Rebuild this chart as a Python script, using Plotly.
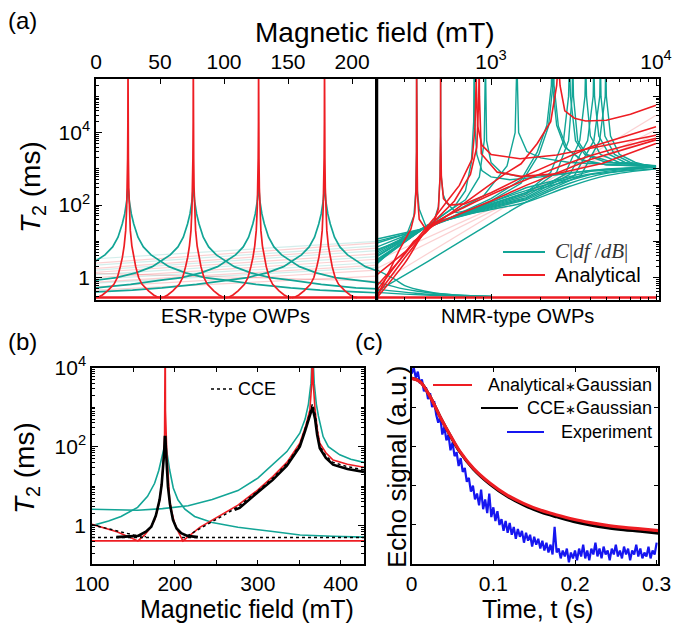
import plotly.graph_objects as go

W, H = 673, 625
FONT = "Liberation Sans"
TEAL = "#12A596"
RED = "#EE1D23"
BLUE = "#1616F0"

# ---------------- Panel (a) left : ESR-type OWPs (linear field, mT) ----------------
ESR_CENTERS = [25, 76, 127, 178.5]
RED_PROFILE_D = [0, 0.1, 0.3, 0.6, 1.0, 1.8, 3.0, 4.4, 6.0, 8.3, 11, 16, 20, 23, 25.5]
RED_PROFILE_T = [1e6, 20000, 2000, 300, 90, 20, 7.5, 3.6, 2.0, 1.0, 0.65, 0.43, 0.33, 0.29, 0.28]
TEAL_PROFILE_D = [0, 0.4, 1, 2.6, 4.5, 7.8, 12, 18, 25, 32, 45, 60, 76, 100, 127, 150, 178, 200, 230]
TEAL_PROFILE_T = [330, 240, 130, 57, 30, 13, 7, 4.2, 2.9, 2.0, 1.35, 1.0, 0.85, 0.65, 0.52, 0.45, 0.40, 0.37, 0.34]
ESR_FLOOR = 0.28
FADED_PINK_ESR = [(2.5, 9), (1.8, 6.5), (1.4, 4.5), (1.0, 3.2), (0.75, 2.2), (0.55, 1.6), (1.3, 0.8), (0.45, 1.1)]
FADED_TEAL_ESR = [(3.3, 10), (2.2, 7.5), (1.6, 5.5), (1.2, 3.8), (0.9, 2.6), (0.7, 1.9)]

# ---------------- Panel (a) right : NMR-type OWPs (log field, mT) ----------------
teal_nmr_354 = [(204, 6), (272, 9.4), (312, 17.6), (341, 51), (350, 250), (353.5, 3000), (354, 1e6), (354.5, 3000),
                (358, 250), (367, 78), (402, 27), (450, 30), (700, 60), (1630, 300), (4000, 850), (10000, 1200)]
teal_nmr_495 = [(204, 4), (391, 22), (448, 33), (480, 90), (491, 600), (494.5, 8000), (495, 1e6), (495.5, 8000),
                (500, 600), (512, 200), (536, 117), (614, 62), (841, 80), (1630, 220), (4000, 700), (10000, 1150)]
teal_nmr_790 = [(204, 3), (420, 28), (600, 90), (700, 250), (760, 1500), (785, 20000), (790, 1e6), (795, 20000),
                (820, 2500), (880, 900), (1000, 600), (1300, 500), (2000, 600), (4000, 900), (10000, 1150)]
teal_nmr_925 = [(204, 2.6), (420, 29), (700, 140), (850, 600), (910, 6000), (925, 1e6), (940, 6000), (1000, 1500),
                (1150, 800), (1500, 600), (2500, 700), (5000, 1000), (10000, 1150)]
teal_nmr_1435 = [(204, 5), (420, 27), (900, 180), (1250, 1200), (1400, 10000), (1435, 1e6), (1470, 10000),
                 (1650, 3000), (2000, 2000), (3000, 1500), (10000, 1150)]
teal_nmr_2340 = [(204, 11.6), (420, 24), (1000, 150), (1520, 500), (1905, 2900), (2180, 16000), (2320, 2e5),
                 (2340, 1e6), (2360, 2e5), (2500, 16000), (2800, 4000), (3500, 1800), (5000, 1300), (10000, 1150)]
teal_nmr_2390 = [(204, 9), (420, 25), (1000, 130), (1520, 400), (1950, 2500), (2230, 15000), (2370, 2e5),
                 (2390, 1e6), (2410, 2e5), (2560, 15000), (2900, 3500), (3600, 1700), (5000, 1300), (10000, 1170)]
teal_nmr_2990 = [(204, 7), (420, 26), (1000, 110), (1630, 220), (2300, 800), (2750, 6000), (2950, 1e5),
                 (2990, 1e6), (3030, 1e5), (3250, 6000), (3700, 2500), (5000, 1500), (10000, 1200)]
teal_nmr_3130 = [(204, 5.5), (420, 27), (1000, 100), (1630, 200), (2500, 800), (2950, 6000), (3100, 1e5),
                 (3130, 1e6), (3160, 1e5), (3350, 6000), (3800, 2500), (5500, 1500), (10000, 1220)]
teal_nmr_3750 = [(204, 4.5), (420, 27), (1000, 95), (1630, 180), (2800, 700), (3450, 6000), (3710, 1e5),
                 (3750, 1e6), (3790, 1e5), (4000, 8000), (4600, 2500), (6000, 1500), (10000, 1180)]
teal_nmr_4200 = [(204, 3.8), (420, 28), (1000, 90), (1630, 160), (3000, 700), (3850, 6000), (4160, 1e5),
                 (4200, 1e6), (4240, 1e5), (4500, 8000), (5200, 2500), (6500, 1500), (10000, 1140)]
teal_nmr_4600 = [(204, 3.2), (420, 28), (1000, 85), (1630, 150), (3200, 650), (4200, 6000), (4560, 1e5),
                 (4600, 1e6), (4640, 1e5), (4900, 8000), (5600, 2500), (7000, 1500), (10000, 1100)]
teal_nmr_4960 = [(204, 2.8), (420, 29), (1000, 80), (1630, 140), (3500, 650), (4550, 6000), (4920, 1e5),
                 (4960, 1e6), (5000, 1e5), (5300, 8000), (6000, 2500), (7500, 1500), (10000, 1080)]
teal_nmr_b1 = [(204, 2.4), (420, 29), (1000, 75), (1630, 120), (3000, 330), (5000, 650), (10000, 1000)]
teal_nmr_b2 = [(204, 10), (420, 25), (1000, 120), (1630, 250), (3000, 550), (5000, 850), (10000, 1100)]
teal_nmr_low = [(204, 0.42), (420, 2.9), (828, 19), (1630, 120), (3000, 400), (5000, 750), (10000, 1000)]
teal_tail_1 = [(204, 1.6), (260, 0.9), (300, 0.6), (400, 0.42), (550, 0.34), (1000, 0.3)]
teal_tail_2 = [(204, 0.75), (300, 0.48), (450, 0.37), (700, 0.32), (1000, 0.3)]
teal_tail_3 = [(204, 0.48), (350, 0.37), (600, 0.32), (1000, 0.3)]
teal_tail_4 = [(204, 0.39), (400, 0.33), (1000, 0.3)]

red_nmr_354 = [(204, 0.3), (234, 1.1), (280, 6.1), (327, 22), (345, 60), (351, 250), (353.5, 3000), (354, 1e6),
               (354.5, 3000), (358, 200), (367, 41), (402, 22), (500, 35), (1000, 130), (1630, 350), (4000, 1800),
               (10000, 6300)]
red_nmr_495 = [(204, 0.45), (280, 3), (340, 10), (400, 17), (448, 30), (480, 80), (491, 600), (494.5, 8000),
               (495, 1e6), (495.5, 8000), (500, 600), (515, 150), (560, 100), (690, 108), (1000, 220),
               (1630, 660), (4000, 4000), (10000, 14500)]
red_nmr_813 = [(204, 0.6), (280, 3), (341, 9.3), (448, 41), (536, 120), (643, 350), (769, 1900), (800, 15000),
               (811, 2e5), (813, 1e6), (815, 2e5), (830, 15000), (880, 4500), (1000, 2500), (1500, 1900),
               (2500, 2400), (5000, 4500), (10000, 8500)]
red_nmr_847 = [(204, 0.33), (300, 3.5), (420, 25), (600, 130), (750, 700), (820, 4000), (843, 1e5), (847, 1e6),
               (851, 1e5), (873, 2600), (1090, 810), (1520, 620), (2500, 730), (4700, 1400), (10000, 5000)]
red_nmr_2560 = [(204, 1.2), (300, 5), (420, 22), (563, 57), (1213, 730), (1520, 1380), (1906, 5000),
                (2300, 20000), (2500, 2e5), (2560, 1e6), (2620, 2e5), (2800, 40000), (3200, 25000),
                (3750, 21000), (5000, 22000), (7000, 32000), (10000, 57000)]
red_nmr_diag = [(204, 0.28), (300, 2.5), (420, 24), (700, 90), (1630, 500), (4000, 2300), (10000, 7000)]
NMR_FLOOR = [(204, 0.28), (10000, 0.28)]
faded_pink_nmr = [[(204, 0.65), (10000, 30000)], [(204, 1.8), (10000, 12000)], [(204, 3.0), (10000, 9000)]]

# ---------------- Panel (b) ----------------
teal_b_366 = [(100, 2.6), (130, 2.5), (155, 2.45), (185, 2.7), (216, 3.2), (245, 4.6), (276, 7.7), (300, 16),
              (318, 35), (335, 75), (350.6, 219), (357, 500), (361, 1200), (364, 4000), (365.5, 20000), (366, 1e5),
              (366.5, 20000), (368, 4000), (370.5, 1200), (373, 600), (378.7, 180), (385, 100), (398.8, 62),
              (412, 48), (428, 40)]
teal_b_188 = [(100, 1.0), (120, 1.3), (135, 1.7), (155, 2.9), (167, 5.5), (175.5, 11.8), (180.5, 25), (183.5, 46),
              (186, 80), (187.5, 110), (188.3, 125), (189.5, 95), (191.5, 45), (193.6, 26), (198, 9), (203.6, 4.5),
              (212, 2.6), (223.7, 1.7), (245, 1.2), (276, 0.91), (318, 0.71), (351, 0.58), (390, 0.54), (428, 0.51)]
red_b = [(100, 1.08), (130, 0.7), (155.4, 0.41), (160, 0.5), (163.5, 0.58), (170, 0.85), (175.5, 1.4), (179, 2.5),
         (181.5, 4.5), (184, 11), (185.5, 26), (186.8, 70), (187.5, 178), (188.0, 800), (188.3, 1e5), (188.6, 800),
         (189.2, 178), (190.2, 70), (191.5, 26), (192.6, 11), (193.6, 4.5), (196, 2.3), (199.6, 1.15), (204, 0.7),
         (209.6, 0.41), (230, 0.9), (250, 1.6), (276, 3.3), (300, 8), (318, 17.4), (335, 40), (350.6, 122),
         (358, 350), (362.7, 850), (365, 4000), (365.9, 1e5), (366.8, 4000), (369, 850), (372, 250), (374.7, 123),
         (382, 70), (390.7, 46), (408, 36), (428, 30)]
red_b_floor = [(100, 0.41), (428, 0.41)]
black_b_1 = [(129.3, 0.51), (145, 0.52), (155.4, 0.55), (165, 0.7), (171.5, 0.94), (177, 1.8), (181.5, 4.5),
             (184, 11), (185.5, 26), (187, 70), (187.8, 175), (188.5, 175), (189.5, 60), (190.5, 25), (191.6, 9.7),
             (194, 3.5), (197.6, 1.4), (202, 0.85), (207.6, 0.64), (215, 0.55), (227.7, 0.51)]
black_b_2 = [(272, 2.5), (278, 2.8), (300, 7), (318, 14.4), (335, 33), (350.6, 100), (357, 250), (362, 500),
             (364.5, 800), (365.8, 1000), (367, 800), (369, 500), (371.5, 200), (374.7, 91), (382, 52),
             (390.7, 35), (408, 27), (428, 23)]
cce_b_flat = [(100, 0.5), (428, 0.5)]
cce_b_left = [(100, 1.05), (130, 0.72), (150, 0.58), (165, 0.52)]
cce_b_right = [(215, 0.55), (228, 0.8), (240, 1.1), (258, 1.8), (276, 3.0), (300, 7.5), (318, 16), (335, 37),
               (350.6, 110), (357, 280), (362, 600), (364.8, 1000), (365.8, 1200), (367, 1000), (369.5, 600),
               (372, 220), (374.7, 105), (382, 58), (390.7, 40), (408, 31), (428, 26)]

# ---------------- Panel (c) ----------------
t_model = [0, 0.0102, 0.0225, 0.0347, 0.0470, 0.0592, 0.0756, 0.096, 0.1164, 0.1368, 0.1573, 0.1777,
           0.1981, 0.2185, 0.2390, 0.2594, 0.2798, 0.3023]
analytical_c = [0.946, 0.929, 0.853, 0.751, 0.658, 0.573, 0.488, 0.412, 0.353, 0.310, 0.276, 0.251,
                0.229, 0.212, 0.198, 0.188, 0.180, 0.171]
cce_c = [0.946, 0.929, 0.853, 0.751, 0.656, 0.570, 0.484, 0.407, 0.347, 0.302, 0.267, 0.241,
         0.218, 0.200, 0.186, 0.176, 0.168, 0.158]
experiment_c = [0.97, 1.00, 0.95, 0.98, 0.92, 0.94, 0.88, 0.90, 0.84, 0.87, 0.80, 0.83, 0.76, 0.72, 0.75,
                0.66, 0.70, 0.63, 0.66, 0.58, 0.62, 0.55, 0.57, 0.50, 0.54, 0.47, 0.49, 0.42, 0.44, 0.37,
                0.40, 0.33, 0.36, 0.30, 0.38, 0.28, 0.33, 0.26, 0.36, 0.24, 0.29, 0.22, 0.27, 0.20, 0.23,
                0.17, 0.22, 0.16, 0.21, 0.15, 0.19, 0.13, 0.18, 0.14, 0.17, 0.11, 0.16, 0.12, 0.15, 0.09,
                0.14, 0.10, 0.13, 0.08, 0.12, 0.07, 0.11, 0.06, 0.10, 0.05, 0.19, 0.06, 0.08, 0.03, 0.07,
                0.04, 0.08, 0.01, 0.06, 0.03, 0.07, 0.02, 0.08, 0.04, 0.10, 0.03, 0.07, 0.02, 0.08, 0.05,
                0.11, 0.04, 0.08, 0.03, 0.09, 0.05, 0.07, 0.02, 0.08, 0.05, 0.10, 0.04, 0.07, 0.03, 0.09,
                0.05, 0.08, 0.02, 0.07, 0.05, 0.10, 0.04, 0.08, 0.03, 0.06, 0.04, 0.09, 0.03, 0.07, 0.05, 0.11]
t_exp_start, t_exp_end = 0.0, 0.3

fig = go.Figure()


def add(points, xa, ya, color, width, dash=None, shape="linear", opacity=1.0):
    fig.add_trace(go.Scatter(x=[p[0] for p in points], y=[p[1] for p in points], mode="lines",
                             xaxis=xa, yaxis=ya, opacity=opacity, showlegend=False, hoverinfo="skip",
                             line=dict(color=color, width=width, dash=dash, shape=shape)))


# ---- panel (a) left
for a, b in FADED_TEAL_ESR:
    add([(0, a), (219.5, b)], "x", "y", TEAL, 1.2, opacity=0.18)
for a, b in FADED_PINK_ESR:
    add([(0, a), (219.5, b)], "x", "y", RED, 1.2, opacity=0.2)
for c in ESR_CENTERS:
    pts = [(c - d, t) for d, t in zip(reversed(TEAL_PROFILE_D), reversed(TEAL_PROFILE_T))]
    pts += [(c + d, t) for d, t in zip(TEAL_PROFILE_D[1:], TEAL_PROFILE_T[1:])]
    add(pts, "x", "y", TEAL, 1.7)
add([(0, ESR_FLOOR), (219.5, ESR_FLOOR)], "x", "y", RED, 2.5)
for c in ESR_CENTERS:
    pts = [(c - d, t) for d, t in zip(reversed(RED_PROFILE_D), reversed(RED_PROFILE_T))]
    pts += [(c + d, t) for d, t in zip(RED_PROFILE_D[1:], RED_PROFILE_T[1:])]
    add(pts, "x", "y", RED, 1.7)

# ---- panel (a) right
for fl in faded_pink_nmr:
    add(fl, "x2", "y2", RED, 1.2, opacity=0.2)
for tl in [teal_tail_1, teal_tail_2, teal_tail_3, teal_tail_4, teal_nmr_low, teal_nmr_b1, teal_nmr_b2]:
    add(tl, "x2", "y2", TEAL, 1.4, shape="spline")
for tc in [teal_nmr_354, teal_nmr_495, teal_nmr_790, teal_nmr_925, teal_nmr_1435, teal_nmr_2340, teal_nmr_2390,
           teal_nmr_2990, teal_nmr_3130, teal_nmr_3750, teal_nmr_4200, teal_nmr_4600, teal_nmr_4960]:
    add(tc, "x2", "y2", TEAL, 1.4)
add(NMR_FLOOR, "x2", "y2", RED, 2.5)
add(red_nmr_diag, "x2", "y2", RED, 1.6, shape="spline")
for rc in [red_nmr_354, red_nmr_495, red_nmr_813, red_nmr_847, red_nmr_2560]:
    add(rc, "x2", "y2", RED, 1.6)

# ---- panel (b)
add(teal_b_366, "x3", "y3", TEAL, 1.6)
add(teal_b_188, "x3", "y3", TEAL, 1.6)
add(red_b_floor, "x3", "y3", RED, 1.6)
add(red_b, "x3", "y3", RED, 1.6)
add(black_b_1, "x3", "y3", "black", 2.6)
add(black_b_2, "x3", "y3", "black", 2.6)
for cl in [cce_b_flat, cce_b_left, cce_b_right]:
    add(cl, "x3", "y3", "black", 1.5, dash="dot")

# ---- panel (c)
n = len(experiment_c)
t_exp = [t_exp_start + i * (t_exp_end - t_exp_start) / (n - 1) for i in range(n)]
add(list(zip(t_exp, experiment_c)), "x4", "y4", BLUE, 2.2)
add(list(zip(t_model, cce_c)), "x4", "y4", "black", 3, shape="spline")
add(list(zip(t_model, analytical_c)), "x4", "y4", RED, 3.2, shape="spline")


def X(p):
    return p / W


def Y(p):
    return 1 - p / H


tickfont = dict(family=FONT, size=21, color="black")
common = dict(showline=True, linecolor="black", linewidth=1.5, ticks="inside", tickcolor="black",
              tickwidth=1, showgrid=False, zeroline=False, tickfont=tickfont, tickmode="array",
              automargin=False)
MINOR_LOG = [m * 10 ** k for k in range(-1, 6) for m in range(1, 10) if not (m == 1 and k % 2 == 0)]
minor_log = dict(tickmode="array", tickvals=MINOR_LOG, ticks="inside", ticklen=3, tickcolor="black")
DEC_ALL = [10 ** k for k in range(-1, 6)]
minor_dec = dict(tickmode="array", tickvals=[m * 10 ** k for k in range(-1, 6) for m in range(1, 10)],
                 ticks="inside", ticklen=3, tickcolor="black")

fig.update_layout(
    width=W, height=H, margin=dict(l=0, r=0, t=0, b=0), autosize=False,
    paper_bgcolor="white", plot_bgcolor="white", showlegend=False,
    xaxis=dict(common, domain=[X(96), X(377)], range=[0, 219.5], side="top", anchor="y",
               tickvals=[0, 50, 100, 150, 200], ticklen=5, mirror="ticks"),
    yaxis=dict(common, domain=[Y(300), Y(79)], type="log", range=[-0.62, 5.48], anchor="x",
               tickvals=[1, 100, 1e4], ticktext=["1", "10<sup>2</sup>", "10<sup>4</sup>"], ticklen=6,
               minor=minor_log),
    xaxis2=dict(common, domain=[X(377), X(659)], type="log", range=[2.309, 4.018], side="top", anchor="y2",
                tickvals=[1000, 10000], ticktext=["10<sup>3</sup>", "10<sup>4</sup>"], ticklen=6,
                mirror="ticks", minor=minor_dec),
    yaxis2=dict(common, domain=[Y(300), Y(79)], type="log", range=[-0.62, 5.48], anchor="x2", side="right",
                tickvals=DEC_ALL, showticklabels=False, ticklen=6, mirror=True, minor=minor_dec),
    xaxis3=dict(common, domain=[X(92), X(364)], range=[100, 428], anchor="y3",
                tickvals=[100, 200, 300, 400], ticklen=5, mirror="ticks",
                minor=dict(tickmode="array", tickvals=[150, 250, 350], ticks="inside", ticklen=5,
                           tickcolor="black")),
    yaxis3=dict(common, domain=[Y(564.3), Y(367.7)], type="log", range=[-0.98, 4], anchor="x3",
                tickvals=[1, 100, 1e4], ticktext=["1", "10<sup>2</sup>", "10<sup>4</sup>"],
                ticklen=6, mirror="ticks", minor=minor_log),
    xaxis4=dict(common, domain=[X(411.7), X(658.3)], range=[0, 0.302], anchor="y4",
                tickvals=[0, 0.1, 0.2, 0.3], ticktext=["0", "0.1", "0.2", "0.3"], ticklen=5, mirror="ticks"),
    yaxis4=dict(common, domain=[Y(564.3), Y(367.7)], range=[0, 1], anchor="x4",
                tickvals=[0.2, 0.4, 0.6, 0.8], showticklabels=False, ticklen=5, mirror="ticks"),
)

shapes = [
    dict(type="line", xref="paper", yref="paper", x0=X(377), x1=X(377), y0=Y(300), y1=Y(79),
         line=dict(color="black", width=2.5)),
    dict(type="line", xref="paper", yref="paper", x0=X(503), x1=X(545), y0=Y(252), y1=Y(252),
         line=dict(color=TEAL, width=2)),
    dict(type="line", xref="paper", yref="paper", x0=X(503), x1=X(545), y0=Y(275), y1=Y(275),
         line=dict(color=RED, width=2)),
    dict(type="line", xref="paper", yref="paper", x0=X(211), x1=X(233), y0=Y(389), y1=Y(389),
         line=dict(color="black", width=1.5, dash="dot")),
    dict(type="line", xref="paper", yref="paper", x0=X(433), x1=X(472), y0=Y(385), y1=Y(385),
         line=dict(color=RED, width=2)),
    dict(type="line", xref="paper", yref="paper", x0=X(481), x1=X(518), y0=Y(408), y1=Y(408),
         line=dict(color="black", width=2)),
    dict(type="line", xref="paper", yref="paper", x0=X(507), x1=X(544), y0=Y(432), y1=Y(432),
         line=dict(color=BLUE, width=2)),
]
fig.update_layout(shapes=shapes)


def txt(text, x, y, size, xanchor="center", angle=0, family=FONT, color="black"):
    fig.add_annotation(text=text, x=X(x), y=Y(y), xref="paper", yref="paper", showarrow=False,
                       xanchor=xanchor, yanchor="middle", textangle=angle,
                       font=dict(family=family, size=size, color=color))


AST = "<span style='font-size:13px'>\u2217</span>"
txt("(a)", 6, 21, 24, xanchor="left")
txt("Magnetic field (mT)", 375, 32, 28)
txt("<i>T</i><sub>2</sub> (ms)", 32, 187, 28, angle=-90)
txt("ESR-type OWPs", 236, 316, 20)
txt("NMR-type OWPs", 517, 316, 20)
txt("<i>C</i>|<i>df</i> /<i>dB</i>|", 553, 251, 21, xanchor="left", family="Liberation Serif", color="#333333")
txt("Analytical", 553, 275, 20, xanchor="left")
txt("(b)", 6, 341, 24, xanchor="left")
txt("<i>T</i><sub>2</sub> (ms)", 26, 468, 28, angle=-90)
txt("CCE", 236, 389, 18, xanchor="left")
txt("Magnetic field (mT)", 247, 609, 25)
txt("(c)", 353, 341, 24, xanchor="left")
txt("Echo signal (a.u.)", 397, 467, 26, angle=-90)
txt("Time, t (s)", 538, 609, 25)
txt("Analytical" + AST + "Gaussian", 654, 385, 18, xanchor="right")
txt("CCE" + AST + "Gaussian", 654, 408, 18, xanchor="right")
txt("Experiment", 654, 432, 18, xanchor="right")

fig.write_html("out.html")
